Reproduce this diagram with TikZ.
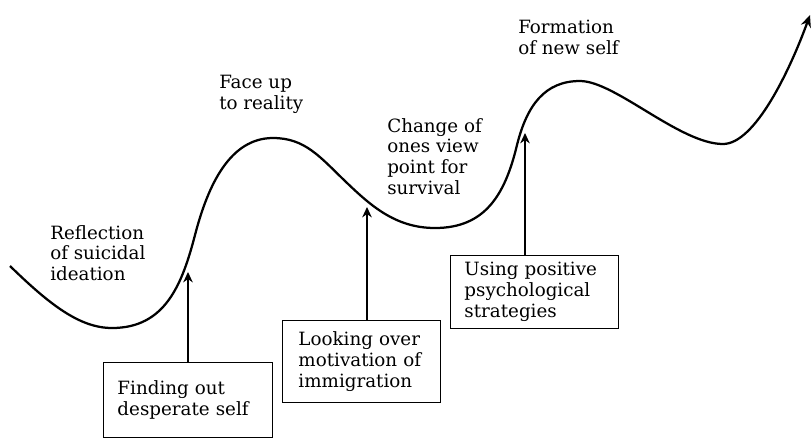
\documentclass[tikz,border=0pt]{standalone}
\usepackage{fontspec}
\setmainfont{DejaVu Serif}
\usepackage{tikz}
\usetikzlibrary{arrows.meta}
\tikzset{
  stagebox/.style={draw,line width=0.7pt,align=left,anchor=north west,inner ysep=0pt,inner xsep=0.35cm},
  phase/.style={align=left,anchor=north west,inner sep=0pt},
  pointer/.style={-{Stealth[length=2.6mm,width=2.4mm]},line width=0.8pt},
}

\begin{document}
\begin{tikzpicture}[x=0.025cm,y=-0.025cm,font=\fontsize{13}{14.8}\selectfont]
  \useasboundingbox (0,0) rectangle (811,437);
  % Verlauf (Kurve)
  \draw[line width=1.6pt,-{Stealth[length=3mm,width=2.6mm]}]
    (10,266) .. controls (50,305) and (80,328) .. (112,328)
    .. controls (165,328) and (182,285) .. (195,235)
    .. controls (208,185) and (230,138) .. (273,138)
    .. controls (305,138) and (320,157) .. (345,181)
    .. controls (370,205) and (395,228) .. (435,228)
    .. controls (485,228) and (505,195) .. (517,145)
    .. controls (527,105) and (545,81) .. (580,81)
    .. controls (615,81) and (680,144) .. (723,144)
    .. controls (755,144) and (790,70) .. (810,15);
  \coordinate (tip1) at (188,272);
  \coordinate (tip2) at (367,207);
  \coordinate (tip3) at (525,133);

  % Phasen
  \node[phase] (reflect) at (50,225) {Reflection\\of suicidal\\ideation};
  \node[phase] (faceup) at (219,75) {Face up\\to reality};
  \node[phase] (change) at (387,118) {Change of\\ones view\\point for\\survival};
  \node[phase] (newself) at (518,20) {Formation\\of new self};

  % Kaesten mit Pfeilen
  \node[stagebox,text width=3.525cm,minimum height=1.875cm] (find) at (103,362) {Finding out\\desperate self};
  \node[stagebox,inner xsep=0.4cm,text width=3.15cm,minimum height=2.05cm] (look) at (282,320) {Looking over\\motivation of\\immigration};
  \node[stagebox,text width=3.5cm,minimum height=1.825cm] (using) at (450,255) {Using positive\\psychological\\strategies};
  \draw[pointer] (tip1 |- find.north) -- (tip1);
  \draw[pointer] (tip2 |- look.north) -- (tip2);
  \draw[pointer] (tip3 |- using.north) -- (tip3);
\end{tikzpicture}
\end{document}
